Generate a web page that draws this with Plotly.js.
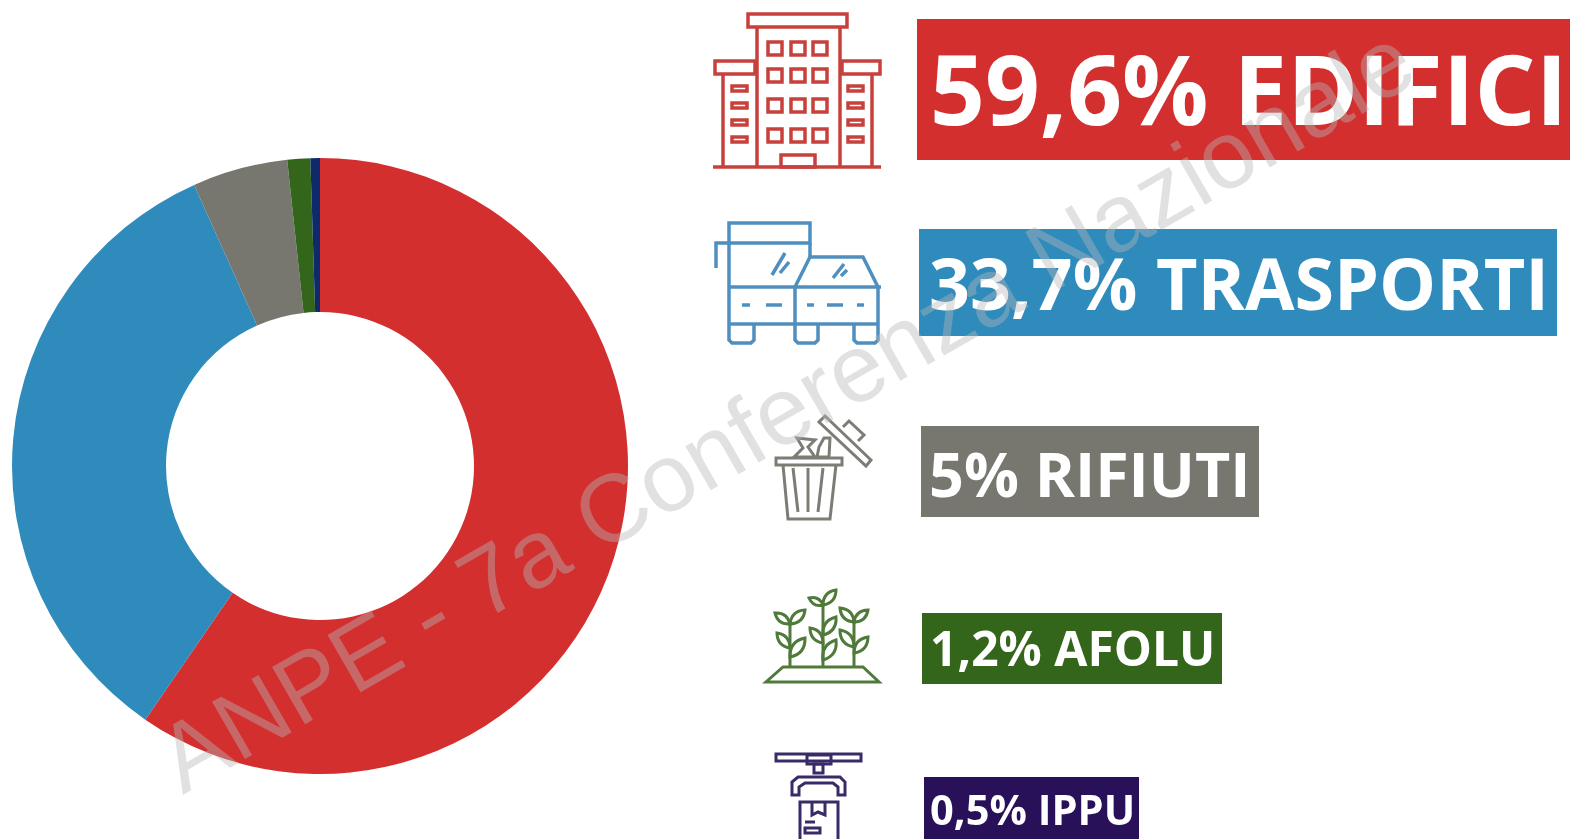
<!DOCTYPE html>
<html><head><meta charset="utf-8">
<script src="https://cdn.plot.ly/plotly-3.0.1.min.js"></script>
<style>html,body{margin:0;padding:0;background:#fff;overflow:hidden}#g{width:1570px;height:839px;filter:blur(0.7px)}</style>
</head><body><div id="g"></div>
<script>
const W = 1570, H = 839;
const categories = ['EDIFICI', 'TRASPORTI', 'RIFIUTI', 'AFOLU', 'IPPU'];
const values = [59.6, 33.7, 5, 1.2, 0.5];
const valueLabels = ['59,6%', '33,7%', '5%', '1,2%', '0,5%'];
const sliceColors = ['#D32F2F', '#2E8BBC', '#78776F', '#33651B', '#0E2A6B'];
const badgeColors = ['#D32F2F', '#2E8BBC', '#78776F', '#33651B', '#29115A'];
const badgeBoxes = [[917,19,1570,160],[919,229,1557,336],[921,426,1259,517],[922,613,1222,684],[924,777,1139,839]];
const badgeFont = [96, 71.8, 61, 48, 41.6];
const badgeTextX = [928, 927, 927, 928, 928];
const badgeTextY = [87, 282, 473, 647, 809];
const watermark = 'ANPE - 7a Conferenza Nazionale';

const px = x => (x / W).toFixed(5), py = y => (1 - y / H).toFixed(5);
const pt = (x, y) => px(x) + ',' + py(y);
const poly = (pts, closed) => 'M' + pts.map(p => pt(p[0], p[1])).join(' L') + (closed ? ' Z' : '');
const box = (a, b, c, d) => poly([[a,b],[c,b],[c,d],[a,d]], true);
const line = (a, b, c, d) => poly([[a,b],[c,d]], false);
const leaf = (x0, y0, x1, y1) => {
  const mx = (x0+x1)/2, my = (y0+y1)/2, dx = x1-x0, dy = y1-y0, k = 0.42;
  return 'M' + pt(x0,y0) + ' Q' + pt(mx-dy*k, my+dx*k) + ' ' + pt(x1,y1) + ' Q' + pt(mx+dy*k, my-dx*k) + ' ' + pt(x0,y0) + ' Z';
};
const icon = (color, width, paths) => paths.map(path => ({
  type: 'path', xref: 'paper', yref: 'paper', path, layer: 'above',
  line: {color, width}, fillcolor: 'rgba(0,0,0,0)'
}));

const building = [
  box(748,14,847,27), box(715,61,755,74), box(842,61,880,74),
  line(757,27,757,166), line(840,27,840,166), line(723,74,723,166), line(872,74,872,166),
  line(713,167,881,167), box(781,155,815,167)
];
[768,791,813].forEach(x => [42,69,99,129].forEach(y => building.push(box(x,y,x+14,y+13))));
[732,848].forEach(x => [86,103,120,137].forEach(y => building.push(box(x,y,x+15,y+5))));

const vehicles = [
  box(729,223,810,243), line(729,243,729,324), poly([[729,243],[716,243],[716,268]]),
  line(810,243,810,257), line(729,287,881,287), line(729,324,878,324), line(878,287,878,324),
  line(795,287,795,324), poly([[795,287],[810,257],[863,257],[878,287]]),
  poly([[729,324],[729,340],[732,343],[751,343],[754,340],[754,324]]),
  poly([[795,324],[795,340],[798,343],[815,343],[818,340],[818,324]]),
  poly([[854,324],[854,340],[857,343],[875,343],[878,340],[878,324]]),
  line(742,305,750,305), line(766,305,782,305), line(807,305,814,305), line(827,305,843,305), line(857,305,864,305),
  line(772,275,785,253), line(780,273,789,262), line(833,278,844,264), line(841,276,847,270)
];

const bin = [
  box(776,458,842,465), poly([[783,465],[788,519],[830,519],[836,465]]),
  line(793,468,798,512), line(808,468,808,512), line(823,468,818,512),
  poly([[825,416],[871,460],[866,466],[819,422]], true), poly([[843,427],[849,421],[864,435],[858,441]]),
  poly([[794,457],[803,448],[797,438],[815,440],[808,447],[815,457]], true),
  poly([[817,457],[819,447],[824,438],[830,438],[829,457]], true)
];

const plants = [
  poly([[783,667],[863,667],[879,682],[766,682]], true),
  line(790,667,790,624), line(823,667,823,605), line(854,667,854,622),
  leaf(790,624,775,613), leaf(790,624,805,610), leaf(790,648,777,633), leaf(790,657,805,638),
  leaf(823,605,809,598), leaf(823,605,836,590), leaf(823,635,836,617), leaf(823,643,810,628), leaf(823,660,836,640),
  leaf(854,622,840,608), leaf(854,622,868,610), leaf(854,647,840,630), leaf(854,653,868,637)
];

const robot = [
  box(776,754,861,761), box(807,755,831,764), box(814,764,823,773),
  poly([[792,795],[792,782],[798,777],[840,777],[845,782],[845,795],[838,795],[838,787],[833,783],[805,783],[799,787],[799,795]], true),
  box(800,802,838,842), poly([[812,802],[812,815],[818,812],[825,815],[825,802]]),
  line(805,822,815,822), box(805,828,820,833)
];

const badges = badgeBoxes.map((b, i) => ({
  type: 'rect', xref: 'paper', yref: 'paper', layer: 'above',
  x0: b[0]/W, x1: b[2]/W, y0: 1-b[3]/H, y1: 1-b[1]/H,
  line: {width: 0}, fillcolor: badgeColors[i]
}));

const annotations = categories.map((c, i) => ({
  xref: 'paper', yref: 'paper', x: badgeTextX[i]/W, y: 1-badgeTextY[i]/H,
  xanchor: 'left', yanchor: 'middle', showarrow: false,
  text: valueLabels[i] + ' ' + c,
  font: {family: '"Open Sans", sans-serif', size: badgeFont[i], color: '#fff', weight: 700}
}));
annotations.push({
  xref: 'paper', yref: 'paper', x: 785/W, y: 1-408/H, xanchor: 'center', yanchor: 'middle',
  showarrow: false, text: watermark, textangle: -30,
  font: {family: '"Liberation Sans", Arial, sans-serif', size: 96, color: 'rgba(184,184,184,0.42)'}
});

const data = [{
  type: 'pie', labels: categories, values, sort: false, direction: 'clockwise', rotation: 0,
  hole: 0.5, textinfo: 'none', hoverinfo: 'label+percent',
  marker: {colors: sliceColors, line: {width: 0}},
  domain: {x: [12/W, 628/W], y: [1-774/H, 1-158/H]}, showlegend: false
}];
const layout = {
  width: W, height: H, margin: {l:0, r:0, t:0, b:0}, paper_bgcolor: '#fff', showlegend: false,
  shapes: [].concat(badges,
    icon('#C8403C', 3.5, building), icon('#4F8FBF', 3.5, vehicles), icon('#7D7C75', 3, bin),
    icon('#4F7A3A', 3, plants), icon('#3A2A68', 3, robot)),
  annotations
};
Plotly.newPlot('g', data, layout, {displayModeBar: false, staticPlot: true});
</script></body></html>
